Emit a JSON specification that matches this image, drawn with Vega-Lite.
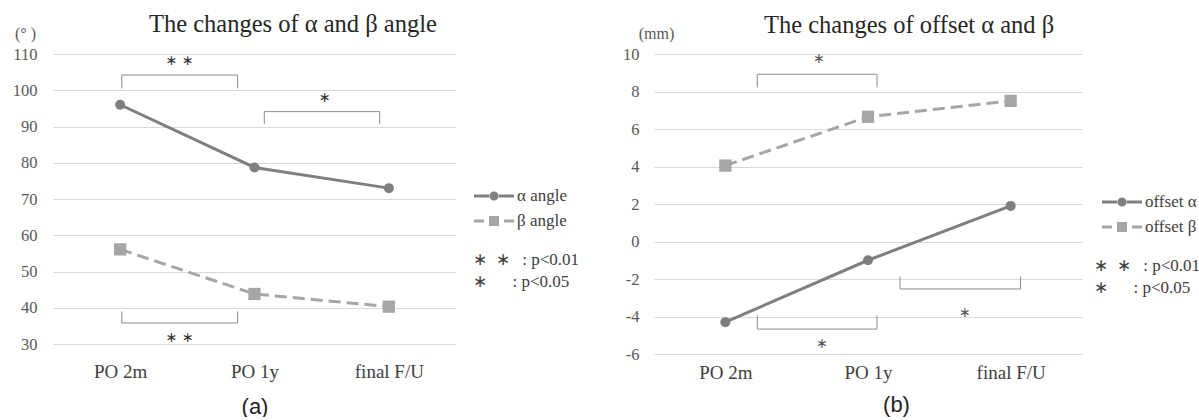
{
  "$schema": "https://vega.github.io/schema/vega-lite/v6.json",
  "background": "white",
  "padding": {"left": 12, "top": 11, "right": 0, "bottom": 0},
  "spacing": 42,
  "resolve": {
    "scale": {"color": "independent", "shape": "independent", "fill": "independent"},
    "legend": {"color": "independent", "shape": "independent", "fill": "independent"}
  },
  "config": {
    "view": {"stroke": null},
    "font": "Liberation Serif",
    "legend": {"labelFont": "Liberation Serif", "labelFontSize": 17, "labelColor": "#404040", "labelLimit": 300}
  },
  "datasets": {
    "a": [
      {"t": 0, "series": "α angle", "v": 96.0},
      {"t": 1, "series": "α angle", "v": 78.7},
      {"t": 2, "series": "α angle", "v": 73.0},
      {"t": 0, "series": "β angle", "v": 56.1},
      {"t": 1, "series": "β angle", "v": 43.8},
      {"t": 2, "series": "β angle", "v": 40.3}
    ],
    "b": [
      {"t": 0, "series": "offset α", "v": -4.3},
      {"t": 1, "series": "offset α", "v": -1.0},
      {"t": 2, "series": "offset α", "v": 1.9},
      {"t": 0, "series": "offset β", "v": 4.05},
      {"t": 1, "series": "offset β", "v": 6.65},
      {"t": 2, "series": "offset β", "v": 7.5}
    ],
    "bra": [
      {"x1": 0.012, "x2": 0.012, "y1": 100.5, "y2": 104.2},
      {"x1": 0.874, "x2": 0.874, "y1": 100.5, "y2": 104.2},
      {"x1": 0.012, "x2": 0.874, "y1": 104.2, "y2": 104.2},
      {"x1": 1.073, "x2": 1.073, "y1": 90.7, "y2": 94.1},
      {"x1": 1.932, "x2": 1.932, "y1": 90.7, "y2": 94.1},
      {"x1": 1.073, "x2": 1.932, "y1": 94.1, "y2": 94.1},
      {"x1": 0.012, "x2": 0.012, "y1": 39.0, "y2": 35.8},
      {"x1": 0.874, "x2": 0.874, "y1": 39.0, "y2": 35.8},
      {"x1": 0.012, "x2": 0.874, "y1": 35.8, "y2": 35.8}
    ],
    "stara": [
      {"x": 0.444, "y": 108.0, "s": "∗ ∗"},
      {"x": 1.523, "y": 97.9, "s": "∗"},
      {"x": 0.444, "y": 31.7, "s": "∗ ∗"}
    ],
    "brb": [
      {"x1": 0.224, "x2": 0.224, "y1": 8.22, "y2": 8.92},
      {"x1": 1.063, "x2": 1.063, "y1": 8.22, "y2": 8.92},
      {"x1": 0.224, "x2": 1.063, "y1": 8.92, "y2": 8.92},
      {"x1": 0.224, "x2": 0.224, "y1": -3.94, "y2": -4.67},
      {"x1": 1.063, "x2": 1.063, "y1": -3.94, "y2": -4.67},
      {"x1": 0.224, "x2": 1.063, "y1": -4.67, "y2": -4.67},
      {"x1": 1.224, "x2": 1.224, "y1": -1.86, "y2": -2.53},
      {"x1": 2.069, "x2": 2.069, "y1": -1.86, "y2": -2.53},
      {"x1": 1.224, "x2": 2.069, "y1": -2.53, "y2": -2.53}
    ],
    "starb": [
      {"x": 0.656, "y": 9.73, "s": "∗"},
      {"x": 0.675, "y": -5.45, "s": "∗"},
      {"x": 1.677, "y": -3.81, "s": "∗"}
    ]
  },
  "hconcat": [
    {
      "width": 403,
      "height": 290,
      "title": {"text": "The changes of α and β angle", "anchor": "start", "frame": "group", "dx": 96, "offset": -12, "font": "Liberation Serif", "fontSize": 24.5, "fontWeight": "normal", "color": "#262626"},
      "encoding": {
        "x": {"field": "t", "type": "quantitative", "scale": {"domain": [-0.5, 2.5], "nice": false, "zero": false},
          "axis": {"values": [0, 1, 2], "labelExpr": "['PO 2m','PO 1y','final F/U'][datum.value]", "grid": false, "ticks": false, "tickSize": 0, "domain": false,
            "labelFont": "Liberation Serif", "labelFontSize": 19, "labelColor": "#404040", "labelPadding": 18,
            "title": "(a)", "titleFont": "Liberation Sans", "titleFontSize": 22, "titleFontWeight": "normal", "titleColor": "#222222",
            "titleX": 201.5, "titleY": 62, "titleAlign": "center", "titleBaseline": "middle"}},
        "y": {"field": "v", "type": "quantitative", "scale": {"domain": [30, 110], "nice": false, "zero": false},
          "axis": {"values": [30, 40, 50, 60, 70, 80, 90, 100, 110], "labelExpr": "datum.value + ''", "grid": true, "gridColor": "#d9d9d9", "ticks": false, "tickSize": 0, "domain": false,
            "labelFont": "Liberation Serif", "labelFontSize": 16.5, "labelColor": "#595959", "labelPadding": 16,
            "title": "(°  )", "titleAngle": 0, "titleX": -28, "titleY": -21, "titleAlign": "center", "titleBaseline": "middle",
            "titleFont": "Liberation Serif", "titleFontSize": 16, "titleFontWeight": "normal", "titleColor": "#595959"}}
      },
      "layer": [
        {"data": {"name": "a"}, "transform": [{"filter": "datum.series === 'α angle'"}], "mark": {"type": "line", "color": "#7f7f7f", "strokeWidth": 3}},
        {"data": {"name": "a"}, "transform": [{"filter": "datum.series === 'β angle'"}], "mark": {"type": "line", "color": "#a6a6a6", "strokeWidth": 3, "strokeDash": [12, 6]}},
        {"data": {"name": "a"}, "transform": [{"filter": "datum.series === 'α angle'"}], "mark": {"type": "point", "shape": "circle", "filled": true, "opacity": 1, "size": 100, "color": "#7f7f7f"}},
        {"data": {"name": "a"}, "transform": [{"filter": "datum.series === 'β angle'"}], "mark": {"type": "point", "shape": "square", "filled": true, "opacity": 1, "size": 150, "color": "#a6a6a6"}},
        {"data": {"name": "bra"}, "mark": {"type": "rule", "color": "#8c8c8c", "strokeWidth": 1},
          "encoding": {"x": {"field": "x1", "type": "quantitative"}, "x2": {"field": "x2"}, "y": {"field": "y1", "type": "quantitative"}, "y2": {"field": "y2"}}},
        {"data": {"name": "stara"}, "mark": {"type": "text", "font": "DejaVu Sans", "fontSize": 14, "color": "#333333", "baseline": "middle"},
          "encoding": {"x": {"field": "x", "type": "quantitative"}, "y": {"field": "y", "type": "quantitative"}, "text": {"field": "s"}}},
        {"data": {"name": "a"}, "transform": [{"filter": "false"}], "mark": {"type": "point", "filled": true, "size": 400, "strokeWidth": 0, "opacity": 1},
          "encoding": {
            "color": {"field": "series", "type": "nominal", "scale": {"domain": ["α angle", "β angle"], "range": ["#7f7f7f", "#a6a6a6"]},
              "legend": {"title": null, "orient": "none", "legendX": 421, "legendY": 132, "symbolSize": 400, "labelOffset": 23, "rowPadding": 7, "symbolStrokeWidth": 0}},
            "shape": {"field": "series", "type": "nominal", "scale": {"domain": ["α angle", "β angle"], "range": ["M-1,-0.15H0.6V0.15H-1Z M1.4,-0.15H3V0.15H1.4Z M0.55,0A0.45,0.45,0,1,0,1.45,0A0.45,0.45,0,1,0,0.55,0Z", "M-1,-0.15H0V0.15H-1Z M2,-0.15H3V0.15H2Z M0.5,-0.5H1.5V0.5H0.5Z"]},
              "legend": {"title": null, "orient": "none", "legendX": 421, "legendY": 132, "symbolSize": 400, "labelOffset": 23, "rowPadding": 7, "symbolStrokeWidth": 0}}
          }},
        {"data": {"name": "a"}, "transform": [{"filter": "false"}], "mark": {"type": "point", "filled": true, "strokeWidth": 0},
          "encoding": {
            "fill": {"field": "sig", "type": "nominal", "scale": {"domain": ["∗\u2002∗\u2002\u00a0:\u00a0p<0.01", "∗\u2002\u2002\u00a0\u00a0:\u00a0p<0.05"], "range": ["#ffffff", "#ffffff"]},
              "legend": {"title": null, "orient": "none", "legendX": 403, "legendY": 197, "symbolSize": 0, "symbolOpacity": 0, "symbolStrokeWidth": 0, "labelOffset": 0, "rowPadding": 4}}
          }}
      ]
    },
    {
      "width": 428,
      "height": 300,
      "title": {"text": "The changes of offset α and β", "anchor": "start", "frame": "group", "dx": 110, "offset": -13, "font": "Liberation Serif", "fontSize": 24.5, "fontWeight": "normal", "color": "#262626"},
      "encoding": {
        "x": {"field": "t", "type": "quantitative", "scale": {"domain": [-0.5, 2.5], "nice": false, "zero": false},
          "axis": {"values": [0, 1, 2], "labelExpr": "['PO 2m','PO 1y','final F/U'][datum.value]", "grid": false, "ticks": false, "tickSize": 0, "domain": false,
            "labelFont": "Liberation Serif", "labelFontSize": 19, "labelColor": "#404040", "labelPadding": 9,
            "title": "(b)", "titleFont": "Liberation Sans", "titleFontSize": 22, "titleFontWeight": "normal", "titleColor": "#222222",
            "titleX": 242, "titleY": 50, "titleAlign": "center", "titleBaseline": "middle"}},
        "y": {"field": "v", "type": "quantitative", "scale": {"domain": [-6, 10], "nice": false, "zero": false},
          "axis": {"values": [-6, -4, -2, 0, 2, 4, 6, 8, 10], "labelExpr": "datum.value + ''", "grid": true, "gridColor": "#d9d9d9", "ticks": false, "tickSize": 0, "domain": false,
            "labelFont": "Liberation Serif", "labelFontSize": 16.5, "labelColor": "#595959", "labelPadding": 15,
            "title": "(mm)", "titleAngle": 0, "titleX": 2, "titleY": -21, "titleAlign": "center", "titleBaseline": "middle",
            "titleFont": "Liberation Serif", "titleFontSize": 16, "titleFontWeight": "normal", "titleColor": "#595959"}}
      },
      "layer": [
        {"data": {"name": "b"}, "transform": [{"filter": "datum.series === 'offset α'"}], "mark": {"type": "line", "color": "#7f7f7f", "strokeWidth": 3}},
        {"data": {"name": "b"}, "transform": [{"filter": "datum.series === 'offset β'"}], "mark": {"type": "line", "color": "#a6a6a6", "strokeWidth": 3, "strokeDash": [12, 6]}},
        {"data": {"name": "b"}, "transform": [{"filter": "datum.series === 'offset α'"}], "mark": {"type": "point", "shape": "circle", "filled": true, "opacity": 1, "size": 100, "color": "#7f7f7f"}},
        {"data": {"name": "b"}, "transform": [{"filter": "datum.series === 'offset β'"}], "mark": {"type": "point", "shape": "square", "filled": true, "opacity": 1, "size": 150, "color": "#a6a6a6"}},
        {"data": {"name": "brb"}, "mark": {"type": "rule", "color": "#8c8c8c", "strokeWidth": 1},
          "encoding": {"x": {"field": "x1", "type": "quantitative"}, "x2": {"field": "x2"}, "y": {"field": "y1", "type": "quantitative"}, "y2": {"field": "y2"}}},
        {"data": {"name": "starb"}, "mark": {"type": "text", "font": "Liberation Serif", "fontSize": 14, "color": "#555555", "baseline": "middle"},
          "encoding": {"x": {"field": "x", "type": "quantitative"}, "y": {"field": "y", "type": "quantitative"}, "text": {"field": "s"}}},
        {"data": {"name": "b"}, "transform": [{"filter": "false"}], "mark": {"type": "point", "filled": true, "size": 400, "strokeWidth": 0, "opacity": 1},
          "encoding": {
            "color": {"field": "series", "type": "nominal", "scale": {"domain": ["offset α", "offset β"], "range": ["#7f7f7f", "#a6a6a6"]},
              "legend": {"title": null, "orient": "none", "legendX": 448, "legendY": 138, "symbolSize": 400, "labelOffset": 23, "rowPadding": 7, "symbolStrokeWidth": 0}},
            "shape": {"field": "series", "type": "nominal", "scale": {"domain": ["offset α", "offset β"], "range": ["M-1,-0.15H0.6V0.15H-1Z M1.4,-0.15H3V0.15H1.4Z M0.55,0A0.45,0.45,0,1,0,1.45,0A0.45,0.45,0,1,0,0.55,0Z", "M-1,-0.15H0V0.15H-1Z M2,-0.15H3V0.15H2Z M0.5,-0.5H1.5V0.5H0.5Z"]},
              "legend": {"title": null, "orient": "none", "legendX": 448, "legendY": 138, "symbolSize": 400, "labelOffset": 23, "rowPadding": 7, "symbolStrokeWidth": 0}}
          }},
        {"data": {"name": "b"}, "transform": [{"filter": "false"}], "mark": {"type": "point", "filled": true, "strokeWidth": 0},
          "encoding": {
            "fill": {"field": "sig", "type": "nominal", "scale": {"domain": ["∗\u2002∗\u2002\u00a0:\u00a0p<0.01", "∗\u2002\u2002\u00a0\u00a0:\u00a0p<0.05"], "range": ["#ffffff", "#ffffff"]},
              "legend": {"title": null, "orient": "none", "legendX": 423, "legendY": 203, "symbolSize": 0, "symbolOpacity": 0, "symbolStrokeWidth": 0, "labelOffset": 0, "rowPadding": 4}}
          }}
      ]
    }
  ]
}
